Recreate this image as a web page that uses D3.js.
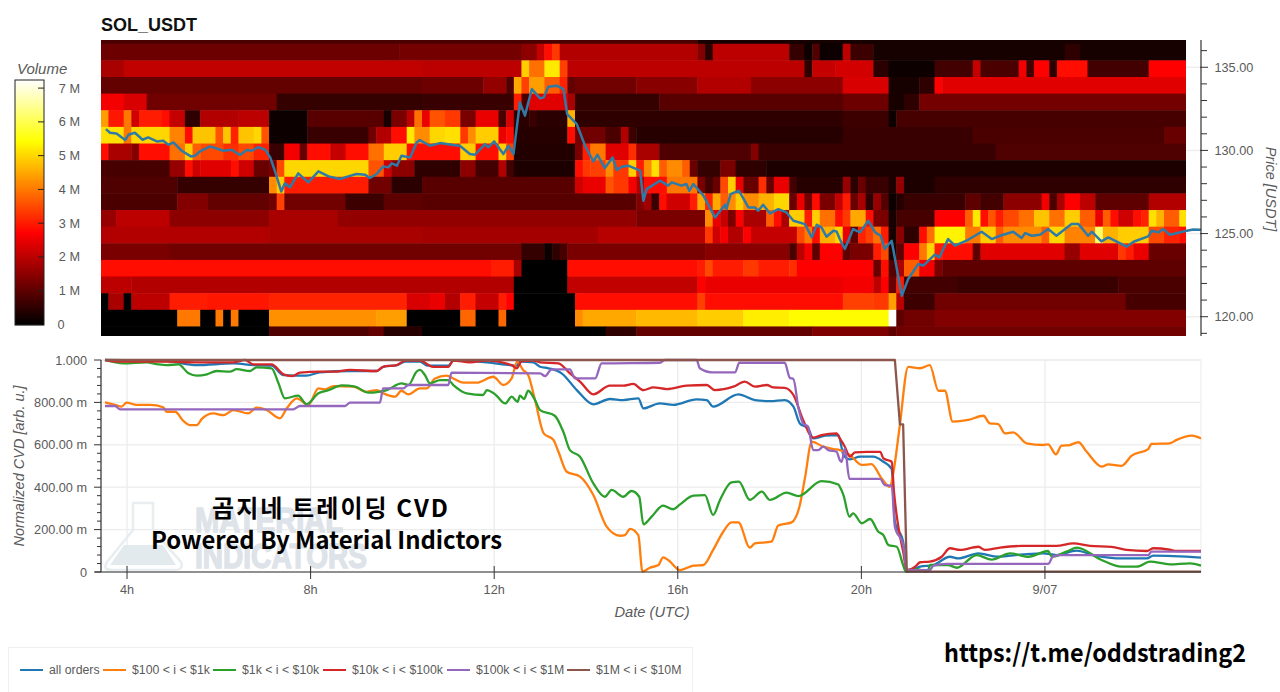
<!DOCTYPE html>
<html><head><meta charset="utf-8">
<script src="https://cdn.jsdelivr.net/npm/d3@7"></script>
<style>html,body{margin:0;padding:0;background:#fff;overflow:hidden}svg{display:block}</style>
</head><body><svg id="c" width="1280" height="692"></svg>
<script>
// ---- Heat map: volume (millions) per $1 price bin, as runs of [end column, volume]; one column = 10 min
const firstColumnHour = 3.433, columnHours = 1/6, columnCount = 142;
const bin1364 = [[78,0.8],[142,0.2]];
const bin1354 = [[39,1.15],[55,1.25],[57,1.5],[58,2.1],[59,2.9],[60,3.3],[78,1.9],[79,1.4],[80,0.45],[90,2.0],[92,0.55],[93,0.1],[94,0.85],[97,0.1],[98,2.0],[101,0.65],[126,0.2],[128,0.5],[142,0.2]];
const bin1344 = [[3,1.8],[42,2.05],[55,2.0],[56,4.9],[58,3.9],[60,5.2],[61,3.4],[92,2.0],[93,0.5],[96,2.1],[101,2.25],[103,0.45],[109,0.15],[114,0.7],[115,2.1],[120,0.8],[121,2.55],[122,0.7],[124,2.75],[125,0.5],[129,2.8],[137,0.7],[142,2.75]];
const bin1334 = [[42,1.05],[50,1.15],[53,1.55],[54,0.85],[55,4.5],[56,3.4],[58,4.4],[60,3.7],[61,3.1],[62,1.05],[70,1.2],[78,1.45],[85,1.9],[97,1.5],[103,2.3],[107,0.2],[109,0.5],[110,2.7],[142,2.4]];
const bin1324 = [[3,2.6],[6,2.3],[23,1.2],[42,0.55],[54,0.6],[55,3.0],[56,0.8],[60,2.4],[61,2.4],[62,1.8],[73,0.55],[97,0.95],[103,1.15],[105,0.2],[107,0.5],[142,1.25]];
const bin1314 = [[1,4.4],[3,2.95],[4,4],[5,2.2],[8,3],[9,2.8],[11,2.1],[13,0.5],[18,1.9],[22,2.0],[27,0.1],[37,0.95],[38,0.2],[40,1.3],[41,2.0],[42,3.9],[43,2.5],[45,3.6],[47,3.3],[49,1.3],[52,2.5],[53,0.75],[54,2.3],[56,0.45],[57,0.6],[61,0.45],[62,4.6],[97,0.5],[103,0.65],[104,0.1],[142,0.75]];
const bin1304 = [[3,5.1],[4,4],[9,5],[11,4.1],[12,2.9],[15,4.8],[16,3.6],[17,4.8],[18,3.1],[20,4.8],[21,5],[22,3.6],[27,0.15],[35,0.6],[36,1.2],[38,1.9],[40,2.9],[41,5.2],[43,4.2],[45,5],[47,5.1],[48,3.3],[49,4.2],[52,4.9],[53,2.5],[54,2.9],[61,0.4],[62,2.9],[66,1.2],[68,0.8],[69,1.9],[70,0.65],[97,0.4],[114,0.6],[139,0.8],[142,1.1]];
const bin1294 = [[1,2.9],[4,1.8],[5,1.4],[9,2.9],[11,3.9],[12,4.9],[13,3.7],[16,3.5],[18,3.2],[20,3.5],[22,3.1],[24,0.6],[26,2.6],[27,1.1],[30,2.8],[32,2.1],[35,2.85],[37,3.9],[40,4.9],[43,2.9],[47,2.8],[49,4.9],[52,2.9],[53,4.9],[54,3.4],[62,0.35],[63,1.3],[64,3],[66,4],[69,2.4],[70,3.2],[73,1.8],[85,0.85],[86,1.4],[97,0.6],[117,0.6],[142,0.85]];
const bin1284 = [[9,0.75],[11,1.6],[12,2.9],[13,2.2],[17,2.4],[18,2.9],[20,2.2],[22,1.1],[23,1.3],[24,3.5],[35,5],[37,3.6],[38,2.2],[41,1.5],[47,0.5],[49,1.5],[52,0.7],[53,1.9],[54,0.7],[62,0.3],[63,2.9],[64,3.3],[66,3.4],[67,4.2],[69,3.3],[70,4.9],[71,3.0],[72,4.2],[73,5.1],[74,3.7],[76,4.2],[77,3.7],[78,1.1],[81,0.55],[83,1.3],[87,0.5],[142,0.32]];
const bin1274 = [[10,0.85],[22,0.55],[23,4.2],[24,4.9],[35,3],[38,1.2],[42,0.45],[62,0.95],[63,2.2],[66,2.5],[67,3.6],[69,3.3],[70,2.6],[71,1.9],[74,2.85],[78,4],[79,1.3],[80,0.7],[81,1.1],[82,3.5],[83,4.9],[84,2.5],[86,1.1],[87,3.2],[88,1.1],[90,2.5],[91,0.7],[97,0.4],[98,1.6],[99,0.45],[100,1.1],[103,0.6],[104,0.3],[105,1.6],[109,0.3],[142,0.5]];
const bin1264 = [[10,0.8],[14,1.4],[22,1.05],[23,1.2],[24,3.4],[32,1.2],[37,0.65],[42,1.0],[70,0.95],[71,1.4],[72,1.7],[73,0.6],[74,2.8],[77,2.2],[78,3],[79,4.5],[80,3.1],[81,4.5],[82,3.7],[83,4.2],[84,4.9],[86,4.2],[88,4.6],[90,5],[91,1.1],[92,2.5],[93,1.2],[94,2.8],[96,1.3],[97,2.1],[98,3],[99,1.1],[100,1.8],[101,0.5],[102,1.6],[103,0.9],[104,0.15],[105,0.4],[113,0.6],[115,1.0],[118,0.7],[123,1.5],[124,2.6],[125,0.8],[126,1.8],[128,2.7],[130,2],[137,1],[142,1.9]];
const bin1254 = [[2,1.6],[9,2.0],[22,1.5],[31,1.8],[42,1.55],[70,1.55],[79,1.3],[80,4.2],[81,2.5],[82,2.1],[83,1.3],[84,2.7],[87,1.8],[88,3.7],[89,2.8],[90,1.8],[92,4.9],[93,3],[94,4.9],[96,3.9],[97,2.9],[98,3.3],[100,4.5],[101,2.9],[103,1.3],[104,0.2],[109,0.75],[113,2.7],[114,3.7],[115,5.2],[116,2.9],[117,3.6],[118,3],[120,3.5],[122,3.9],[124,4.8],[126,3.9],[128,4.9],[130,3.7],[131,2.5],[132,3.7],[133,2.8],[135,2.2],[136,2.9],[137,3.1],[138,5.1],[139,4.6],[141,3.7],[142,5.1]];
const bin1244 = [[22,1.9],[42,1.8],[65,1.75],[79,1.95],[80,3.3],[81,2.2],[82,2.6],[84,1.9],[85,2.7],[91,2.1],[92,3.5],[93,4],[94,2.8],[96,4.6],[97,5],[98,2.5],[99,1],[100,3.1],[101,3.4],[102,3.9],[103,3],[104,0.2],[105,1.5],[107,0.5],[108,2.9],[109,3.9],[113,5.3],[115,4],[117,4.9],[118,3.7],[123,4.2],[124,3.7],[126,5],[130,4.1],[131,6.2],[133,4.6],[137,4.9],[139,3.5],[141,3.1],[142,2.8]];
const bin1234 = [[9,1.3],[55,1.2],[58,0.55],[59,0.1],[60,0.5],[61,0.75],[79,1.3],[90,1.45],[91,0.8],[92,2],[93,2.6],[94,1],[97,2.7],[98,1],[101,1.3],[102,3],[103,3.5],[104,0.3],[105,1],[107,2.7],[108,4],[109,5],[110,3],[114,2.8],[115,1],[126,2.4],[128,1.6],[133,2.4],[134,3.3],[135,3],[137,2.5],[142,1.1]];
const bin1224 = [[51,2.8],[54,3],[55,1.8],[61,0.05],[78,2.85],[79,3],[80,3.5],[84,3],[86,3.3],[90,3],[91,3.2],[97,2.75],[101,2.7],[102,1.1],[103,2.9],[104,0.9],[105,1.8],[107,3.7],[109,2.6],[110,1.3],[142,1]];
const bin1214 = [[4,2],[54,1.9],[61,0.05],[78,2.05],[79,2.7],[97,2.5],[101,2.6],[102,2],[103,2.7],[104,1.1],[105,3],[112,0.7],[133,0.6],[142,0.8]];
const bin1204 = [[1,0.05],[3,1.8],[4,0.05],[9,2],[14,3],[22,2.95],[40,3.1],[43,2.3],[45,2.5],[47,1.9],[49,3],[52,2.1],[53,3],[54,2.7],[62,0.05],[63,2.85],[78,2.8],[79,3.4],[97,2.85],[101,3.4],[103,3.3],[104,4.4],[105,2],[109,0.65],[134,1.2],[142,0.75]];
const bin1194 = [[10,0.05],[13,4],[15,0.05],[16,4],[17,0.05],[18,4],[22,0.05],[36,4.25],[40,4.4],[47,0.05],[49,3.8],[52,0.05],[53,3.8],[62,0.05],[63,4.2],[70,4.5],[78,4.7],[84,4.9],[90,5.25],[103,5.4],[104,7.24],[105,1],[109,1.2],[142,1.4]];
const bin1184 = [[22,0.05],[35,0.85],[37,1.05],[42,0.4],[66,0.05],[70,0.5],[93,1.05],[103,1.35],[104,1],[142,1.2]];
const heatRows = [[136.4,bin1364],[135.4,bin1354],[134.4,bin1344],[133.4,bin1334],[132.4,bin1324],[131.4,bin1314],[130.4,bin1304],[129.4,bin1294],[128.4,bin1284],[127.4,bin1274],[126.4,bin1264],[125.4,bin1254],[124.4,bin1244],[123.4,bin1234],[122.4,bin1224],[121.4,bin1214],[120.4,bin1204],[119.4,bin1194],[118.4,bin1184]];

// ---- Price line: [hour, USDT]
const price = [[3.54,131.28],[3.63,131.06],[3.77,131.02],[3.96,130.62],[4.03,130.94],[4.17,131.06],[4.34,130.64],[4.46,130.78],[4.65,130.54],[4.79,130.58],[4.9,130.34],[5.01,130.48],[5.19,129.98],[5.39,129.64],[5.48,129.68],[5.59,129.94],[5.81,130.24],[6.1,129.98],[6.28,130.04],[6.46,129.72],[6.61,130.02],[6.72,129.98],[6.86,130.2],[7.01,130.04],[7.12,129.58],[7.22,128.78],[7.36,127.53],[7.44,128.02],[7.55,127.78],[7.73,128.62],[7.95,128.08],[8.17,128.74],[8.39,128.44],[8.64,128.28],[8.82,128.44],[9,128.58],[9.19,128.54],[9.29,128.34],[9.44,128.58],[9.58,129.04],[9.69,128.98],[9.77,129.22],[9.88,129.08],[9.98,129.68],[10.17,129.58],[10.31,130.48],[10.38,130.62],[10.6,130.28],[10.82,130.44],[11.11,130.32],[11.25,130.28],[11.47,129.78],[11.58,129.74],[11.8,130.38],[11.87,130.18],[12,130.54],[12.2,129.78],[12.31,130.28],[12.42,129.78],[12.56,132.89],[12.67,132.09],[12.82,133.69],[13,133.13],[13.08,133.19],[13.18,133.83],[13.36,133.89],[13.51,133.69],[13.59,132.18],[13.8,131.58],[13.98,130.28],[14.16,129.34],[14.25,129.74],[14.41,128.94],[14.58,129.58],[14.67,128.82],[14.78,129.02],[14.92,129.08],[15.18,128.78],[15.25,126.97],[15.32,127.67],[15.61,128.18],[15.79,127.88],[15.87,128.08],[16.08,127.88],[16.19,127.98],[16.25,127.57],[16.34,127.98],[16.56,127.28],[16.81,125.97],[17.03,126.73],[17.06,126.47],[17.15,127.37],[17.33,127.58],[17.54,126.57],[17.68,126.57],[17.75,126.37],[17.86,126.73],[18.01,126.21],[18.19,126.47],[18.37,126.27],[18.52,125.77],[18.77,125.57],[18.92,124.77],[19.03,125.53],[19.13,125.37],[19.24,124.81],[19.39,125.17],[19.46,125.13],[19.53,124.67],[19.64,124.07],[19.82,125.27],[19.97,125.07],[20.15,125.77],[20.3,125.07],[20.42,124.87],[20.51,124.07],[20.66,124.57],[20.88,121.26],[21.02,122.27],[21.24,123.17],[21.35,123.07],[21.6,123.73],[21.7,123.57],[21.89,124.67],[22.04,124.27],[22.29,124.57],[22.62,125.11],[22.84,124.67],[23.02,124.87],[23.31,125.11],[23.49,124.73],[23.57,125.03],[23.71,124.87],[23.89,124.93],[24.07,125.27],[24.25,124.87],[24.58,125.57],[24.73,125.57],[24.94,124.87],[25.02,125.11],[25.23,124.53],[25.38,124.77],[25.78,124.21],[25.93,124.51],[26.25,124.83],[26.33,125.17],[26.47,125.07],[26.58,125.27],[26.72,124.93],[27.09,125.17],[27.23,125.25],[27.4,125.23]];

// ---- Normalized CVD lines: [hour, value]
const cvdAll = [[3.52,1],[4.86,.995],[5.52,.976],[6.32,.984],[6.75,.976],[7.15,.973],[7.41,.929],[7.91,.926],[8.2,.942],[8.86,.948],[9.44,.948],[9.58,.968],[9.88,.976],[10.06,.992],[10.38,.992],[10.56,.973],[11,.973],[11.11,.997],[11.84,.989],[12.34,.976],[12.49,.973],[12.56,.992],[12.85,.989],[13,.968],[13.18,.961],[13.47,.937],[13.8,.858],[14.16,.791],[14.52,.816],[14.81,.811],[15.14,.819],[15.25,.772],[15.61,.795],[15.9,.788],[16.41,.814],[16.63,.811],[16.77,.78],[17.32,.838],[17.68,.811],[18.01,.806],[18.33,.811],[18.52,.78],[18.66,.701],[18.84,.678],[18.95,.63],[19.21,.643],[19.5,.646],[19.61,.552],[19.75,.531],[19.97,.544],[20.26,.544],[20.48,.52],[20.66,.486],[20.73,.237],[20.91,.143],[20.99,.009],[21.17,.017],[21.28,.025],[21.57,.033],[21.93,.072],[22.11,.064],[22.55,.088],[22.98,.072],[23.53,.083],[23.96,.088],[24.25,.08],[24.69,.101],[25.05,.08],[25.71,.064],[26.22,.064],[26.36,.077],[27.4,.068]];
const cvd100to1k = [[3.52,.8],[3.74,.788],[3.88,.78],[3.99,.799],[4.21,.788],[4.5,.788],[4.79,.777],[4.86,.756],[5.05,.756],[5.23,.712],[5.37,.693],[5.52,.693],[5.63,.722],[5.88,.748],[6.1,.74],[6.32,.764],[6.64,.748],[6.82,.775],[7.04,.764],[7.33,.725],[7.48,.772],[7.7,.819],[7.95,.788],[8.17,.866],[8.31,.861],[8.5,.877],[8.93,.874],[9.22,.85],[9.44,.858],[9.58,.843],[9.84,.827],[9.98,.855],[10.13,.838],[10.38,.866],[10.53,.866],[10.71,.913],[10.96,.926],[11.11,.913],[11.33,.893],[11.62,.893],[11.98,.921],[12.2,.882],[12.38,.913],[12.5,.992],[12.63,.953],[12.74,.929],[12.89,.811],[13.08,.654],[13.29,.623],[13.4,.567],[13.58,.473],[13.87,.45],[14.16,.363],[14.45,.214],[14.74,.171],[14.85,.174],[14.96,.203],[15.14,.174],[15.23,.002],[15.39,.02],[15.58,.033],[15.68,.069],[15.79,.057],[16.05,.009],[16.34,.03],[16.56,.033],[16.77,.104],[16.99,.19],[17.17,.234],[17.32,.234],[17.57,.115],[17.68,.135],[18.04,.143],[18.19,.219],[18.48,.234],[18.66,.316],[18.77,.442],[18.92,.615],[19.17,.591],[19.39,.58],[19.53,.575],[19.75,.552],[20.01,.505],[20.22,.509],[20.44,.442],[20.62,.402],[20.7,.473],[20.83,.678],[21.02,.968],[21.28,.961],[21.49,.976],[21.68,.855],[21.82,.855],[21.99,.709],[22.33,.717],[22.66,.737],[22.8,.701],[22.98,.698],[23.13,.654],[23.31,.659],[23.6,.607],[23.96,.599],[24.07,.602],[24.24,.555],[24.36,.596],[24.54,.599],[24.73,.612],[24.91,.567],[25.24,.497],[25.38,.508],[25.67,.501],[25.89,.549],[26.25,.58],[26.32,.604],[26.72,.607],[26.87,.623],[27.2,.643],[27.4,.63]];
const cvd1kto10k = [[3.52,1],[3.92,.984],[4.43,.989],[4.65,.981],[4.86,.976],[5.12,.979],[5.34,.937],[5.52,.926],[5.74,.932],[5.95,.948],[6.24,.945],[6.39,.957],[6.68,.948],[6.82,.965],[7.15,.961],[7.3,.89],[7.44,.819],[7.73,.832],[7.91,.791],[8.17,.843],[8.39,.858],[8.68,.88],[8.97,.874],[9.26,.846],[9.48,.85],[9.66,.858],[9.98,.89],[10.13,.882],[10.31,.945],[10.38,.953],[10.49,.929],[10.6,.89],[10.82,.905],[11,.905],[11.11,.882],[11.4,.843],[11.76,.835],[11.84,.858],[12.02,.838],[12.24,.795],[12.38,.827],[12.51,.803],[12.56,.832],[12.65,.816],[12.74,.855],[12.89,.811],[13,.764],[13.32,.737],[13.51,.659],[13.65,.575],[13.87,.544],[14.16,.418],[14.41,.355],[14.56,.387],[14.81,.355],[14.99,.382],[15.16,.355],[15.25,.225],[15.43,.261],[15.68,.313],[15.9,.296],[16.05,.319],[16.34,.36],[16.59,.363],[16.77,.269],[16.92,.34],[17.17,.423],[17.33,.426],[17.57,.34],[17.83,.379],[18.01,.34],[18.37,.374],[18.63,.358],[19.13,.429],[19.5,.413],[19.53,.402],[19.61,.363],[19.74,.261],[19.82,.277],[20.01,.23],[20.19,.25],[20.37,.19],[20.48,.174],[20.59,.127],[20.77,.119],[20.91,.033],[20.97,.002],[21.2,.014],[21.44,.002],[21.5,.033],[21.89,.033],[22.08,.02],[22.51,.08],[22.84,.058],[23.24,.088],[23.64,.072],[24.07,.099],[24.15,.072],[24.47,.096],[24.7,.115],[25.2,.06],[25.67,.025],[26,.025],[26.29,.049],[26.72,.036],[27.16,.041],[27.4,.03]];
const cvd10kto100k = [[3.52,1],[3.85,.992],[4.86,.992],[5.52,.989],[6.32,.989],[6.57,1],[6.75,.979],[7.15,.979],[7.41,.932],[7.59,.924],[7.77,.94],[8.2,.945],[8.5,.945],[8.86,.953],[9.44,.948],[9.58,.968],[9.88,.976],[10.06,.997],[10.38,.997],[10.67,.968],[11,.968],[11.11,.997],[11.47,.989],[11.84,.997],[12.38,.976],[12.49,.961],[12.6,.995],[12.85,.997],[13,.989],[13.4,.984],[13.65,.937],[13.87,.898],[14.16,.838],[14.52,.879],[14.81,.879],[15.03,.887],[15.25,.858],[15.47,.871],[15.76,.863],[16.19,.879],[16.63,.882],[16.81,.858],[17.21,.874],[17.46,.898],[17.68,.874],[17.94,.882],[18.08,.871],[18.33,.869],[18.52,.835],[18.73,.717],[18.95,.634],[19.13,.646],[19.46,.654],[19.53,.63],[19.64,.591],[19.75,.544],[19.86,.564],[20.12,.567],[20.41,.567],[20.48,.536],[20.66,.52],[20.71,.379],[20.8,.222],[20.91,.096],[20.99,.009],[21.17,.025],[21.28,.046],[21.49,.049],[21.75,.072],[21.93,.112],[22.15,.104],[22.55,.119],[22.69,.104],[23.02,.115],[23.49,.123],[23.96,.123],[24.25,.123],[24.62,.135],[24.98,.123],[25.45,.119],[25.78,.104],[26.22,.099],[26.36,.112],[26.72,.105],[26.87,.099],[27.4,.099]];
const cvd100kto1M = [[3.52,.783],[3.74,.783],[3.85,.767],[7.62,.767],[7.77,.783],[8.75,.783],[8.86,.799],[9.51,.799],[9.58,.866],[10.02,.866],[10.13,.882],[11,.882],[11.07,.94],[13,.937],[13.11,.924],[13.25,.956],[13.65,.956],[13.76,.913],[14.2,.913],[14.34,.984],[15.61,.987],[15.72,1],[16.41,1],[16.48,.961],[16.74,.942],[17.25,.942],[17.34,.987],[18.33,.987],[18.44,.916],[18.52,.91],[18.63,.772],[18.73,.701],[18.84,.685],[18.95,.575],[19.06,.575],[19.17,.591],[19.28,.575],[19.46,.567],[19.53,.528],[19.57,.52],[19.64,.583],[19.74,.439],[20.41,.439],[20.51,.41],[20.66,.407],[20.73,.214],[20.91,.127],[20.99,.009],[21.49,.009],[21.57,.03],[21.86,.038],[24.07,.038],[24.18,.075],[24.33,.08],[26.25,.08],[26.32,.096],[27.4,.096]];
const cvd1Mto10M = [[3.52,1],[20.73,1],[20.84,.696],[20.91,.696],[20.99,.002],[27.4,.002]];

const seriesLabels = ["all orders","$100 < i < $1k","$1k < i < $10k","$10k < i < $100k","$100k < i < $1M","$1M < i < $10M"];
const seriesColors = ["#1f77b4","#ff7f0e","#2ca02c","#d62728","#9467bd","#8c564b"];
const seriesValues = [cvdAll,cvd100to1k,cvd1kto10k,cvd10kto100k,cvd100kto1M,cvd1Mto10M];
const legendXs = [20,103,213,323,447,567];

const priceTicks = [120,125,130,135];
const cvdTicks = [0,.2,.4,.6,.8,1];
const cvdTickLabels = ["0","200.00 m","400.00 m","600.00 m","800.00 m","1.000"];
const timeTicks = [4,8,12,16,20,24];
const timeTickLabels = ["4h","8h","12h","16h","20h","9/07"];
const volumeTicks = [0,1,2,3,4,5,6,7];

const svg = d3.select("#c");
const FONT = "'Liberation Sans',Arial,sans-serif";
const KFONT = "'Noto Sans CJK KR','Noto Sans',sans-serif";
const TICK = "#5a5a5a";

const x = d3.scaleLinear().domain([3.433,27.4]).range([101,1201]);
const yPrice = d3.scaleLinear().domain([118.84,136.64]).range([336,40]);
const yCvd = d3.scaleLinear().domain([0,1]).range([572,360]);
const yVol = d3.scaleLinear().domain([0,7.24]).range([324.5,80]);
const hot = d3.scaleLinear().domain([0,.375,.75,1].map(t=>t*7.24)).range(["#000","#f00","#ff0","#fff"]).clamp(true);

const defs = svg.append("defs");
defs.append("clipPath").attr("id","heatClip").append("rect").attr("x",101).attr("y",40).attr("width",1085).attr("height",296);
defs.append("filter").attr("id","soft").attr("x","-2%").attr("y","-2%").attr("width","104%").attr("height","104%")
  .append("feGaussianBlur").attr("stdDeviation",.55);

// --- heat map
const heatG = svg.append("g").attr("clip-path","url(#heatClip)").append("g").attr("filter","url(#soft)");
heatRows.forEach(([floor,runs])=>{
  let start = 0;
  runs.forEach(([end,v])=>{
    heatG.append("rect")
      .attr("x",x(firstColumnHour+start*columnHours)-.25)
      .attr("width",x(firstColumnHour+end*columnHours)-x(firstColumnHour+start*columnHours)+.5)
      .attr("y",yPrice(floor+1)-.25).attr("height",yPrice(floor)-yPrice(floor+1)+.5)
      .attr("fill",hot(v));
    start = end;
  });
});

// --- price line
svg.append("path").datum(price).attr("fill","none").attr("stroke","#2f7aa6").attr("stroke-width",2.5)
  .attr("stroke-linejoin","round")
  .attr("d",d3.line().x(d=>x(d[0])).y(d=>yPrice(d[1])));

// --- price axis
priceTicks.forEach(t=>svg.append("line").attr("x1",1186).attr("x2",1201).attr("y1",yPrice(t)).attr("y2",yPrice(t)).attr("stroke","#eee").attr("stroke-width",1.5));
const priceAxisX = 1201;
svg.append("line").attr("x1",priceAxisX).attr("x2",priceAxisX).attr("y1",40).attr("y2",336).attr("stroke","#333").attr("stroke-width",1.2);
d3.range(119,137).forEach(t=>{
  const major = t%5===0;
  svg.append("line").attr("x1",major?1200:1201).attr("x2",major?1208:1207).attr("y1",yPrice(t)).attr("y2",yPrice(t)).attr("stroke","#333").attr("stroke-width",1);
});
priceTicks.forEach(t=>svg.append("text").attr("x",1214.5).attr("y",yPrice(t)+4.5).attr("font-family",FONT).attr("font-size",12.7).attr("fill",TICK).text(t.toFixed(2)));
svg.append("text").attr("transform","translate(1266,189) rotate(90)").attr("text-anchor","middle").attr("font-family",FONT).attr("font-style","italic").attr("font-size",14.5).attr("fill",TICK).text("Price [USDT]");

svg.append("text").attr("x",101).attr("y",30.5).attr("font-family",FONT).attr("font-weight","bold").attr("font-size",18).attr("fill","#111").text("SOL_USDT");

// --- colour bar
svg.append("text").attr("x",17).attr("y",74).attr("font-family",FONT).attr("font-style","italic").attr("font-size",15).attr("fill",TICK).text("Volume");
d3.range(80,325).forEach(py=>svg.append("rect").attr("x",15).attr("y",py).attr("width",29).attr("height",1.2).attr("fill",hot(yVol.invert(py+.5))));
svg.append("rect").attr("x",15).attr("y",80).attr("width",29).attr("height",245).attr("fill","none").attr("stroke","#222").attr("stroke-width",1);
volumeTicks.forEach(t=>{
  if(t>0) svg.append("line").attr("x1",38).attr("x2",44).attr("y1",yVol(t)).attr("y2",yVol(t)).attr("stroke","#222");
  svg.append("text").attr("x",t?80:64.5).attr("y",yVol(t)+4.5).attr("text-anchor","end").attr("font-family",FONT).attr("font-size",12.7).attr("fill",TICK).text(t?t+" M":"0");
});

// --- CVD panel grid
svg.append("rect").attr("x",101).attr("y",360).attr("width",1100).attr("height",212).attr("fill","none").attr("stroke","#eee").attr("stroke-width",1.2);
cvdTicks.forEach(t=>svg.append("line").attr("x1",101).attr("x2",1201).attr("y1",yCvd(t)).attr("y2",yCvd(t)).attr("stroke","#ececec").attr("stroke-width",1.3));
timeTicks.forEach(t=>svg.append("line").attr("x1",x(t)).attr("x2",x(t)).attr("y1",360).attr("y2",572).attr("stroke","#ececec").attr("stroke-width",1.3));

// --- watermark
const wm = svg.append("g");
wm.append("path").attr("d","M133,503 H153 V530 L181,562 Q184,570 174,570 H112 Q102,570 107,562 L133,530 Z").attr("fill","none").attr("stroke","#e8edf0").attr("stroke-width",2.5);
wm.append("path").attr("d","M124,545 H163 L176,565 H110 Z").attr("fill","#e3eaee");
wm.append("text").attr("x",195).attr("y",532).attr("font-family",FONT).attr("font-weight","bold").attr("font-size",35).attr("fill","#dde3e8").attr("stroke","#dde3e8").attr("stroke-width",1.4).attr("textLength",148).attr("lengthAdjust","spacingAndGlyphs").text("MATERIAL");
wm.append("text").attr("x",195).attr("y",568).attr("font-family",FONT).attr("font-weight","bold").attr("font-size",35).attr("fill","#dde3e8").attr("stroke","#dde3e8").attr("stroke-width",1.4).attr("textLength",172).attr("lengthAdjust","spacingAndGlyphs").text("INDICATORS");

// --- CVD lines
const cvdLine = d3.line().x(d=>x(d[0])).y(d=>yCvd(d[1])).curve(d3.curveMonotoneX);
seriesValues.forEach((s,i)=>svg.append("path").datum(s).attr("fill","none").attr("stroke",seriesColors[i]).attr("stroke-width",2.3).attr("stroke-linejoin","round").attr("d",i===5?d3.line().x(d=>x(d[0])).y(d=>yCvd(d[1]))(s):cvdLine));

// --- CVD axes
svg.append("line").attr("x1",101).attr("x2",101).attr("y1",360).attr("y2",572).attr("stroke","#333").attr("stroke-width",1.2);
svg.append("line").attr("x1",95).attr("x2",1201).attr("y1",572).attr("y2",572).attr("stroke","#333").attr("stroke-width",1.2);
d3.range(0,1.0001,.04).forEach(t=>{
  const major = Math.abs(t*5-Math.round(t*5))<1e-6;
  svg.append("line").attr("x1",major?94:97).attr("x2",101).attr("y1",yCvd(t)).attr("y2",yCvd(t)).attr("stroke","#333").attr("stroke-width",1);
});
cvdTicks.forEach((t,i)=>svg.append("text").attr("x",87).attr("y",yCvd(t)+4.5).attr("text-anchor","end").attr("font-family",FONT).attr("font-size",12.7).attr("fill",TICK).text(cvdTickLabels[i]));
timeTicks.forEach((t,i)=>{
  svg.append("line").attr("x1",x(t)).attr("x2",x(t)).attr("y1",566).attr("y2",579).attr("stroke","#333").attr("stroke-width",1);
  svg.append("text").attr("x",x(t)).attr("y",594).attr("text-anchor","middle").attr("font-family",FONT).attr("font-size",12.7).attr("fill",TICK).text(timeTickLabels[i]);
});
svg.append("text").attr("x",652).attr("y",617).attr("text-anchor","middle").attr("font-family",FONT).attr("font-style","italic").attr("font-size",14.7).attr("fill",TICK).text("Date (UTC)");
svg.append("text").attr("transform","translate(24,466) rotate(-90)").attr("text-anchor","middle").attr("font-family",FONT).attr("font-style","italic").attr("font-size",14.5).attr("fill",TICK).text("Normalized CVD [arb. u.]");

// --- overlay text
svg.append("text").attr("x",212).attr("y",517).attr("font-family",KFONT).attr("font-weight",700).attr("font-size",24).attr("fill","#000").attr("textLength",236).text("곰지네 트레이딩 CVD");
svg.append("text").attr("x",151).attr("y",549).attr("font-family",KFONT).attr("font-weight",700).attr("font-size",24).attr("fill","#000").attr("textLength",351).attr("lengthAdjust","spacingAndGlyphs").text("Powered By Material Indictors");
svg.append("text").attr("x",944).attr("y",662).attr("font-family",KFONT).attr("font-weight",700).attr("font-size",25).attr("fill","#000").attr("textLength",302).attr("lengthAdjust","spacingAndGlyphs").text("https://t.me/oddstrading2");

// --- legend
svg.append("rect").attr("x",8.5).attr("y",647.5).attr("width",684).attr("height",50).attr("fill","#fff").attr("stroke","#efefef");
seriesLabels.forEach((l,i)=>{
  svg.append("line").attr("x1",legendXs[i]).attr("x2",legendXs[i]+23).attr("y1",670).attr("y2",670).attr("stroke",seriesColors[i]).attr("stroke-width",2);
  svg.append("text").attr("x",legendXs[i]+29).attr("y",674).attr("font-family",FONT).attr("font-size",12.3).attr("fill",TICK).text(l);
});
</script></body></html>
